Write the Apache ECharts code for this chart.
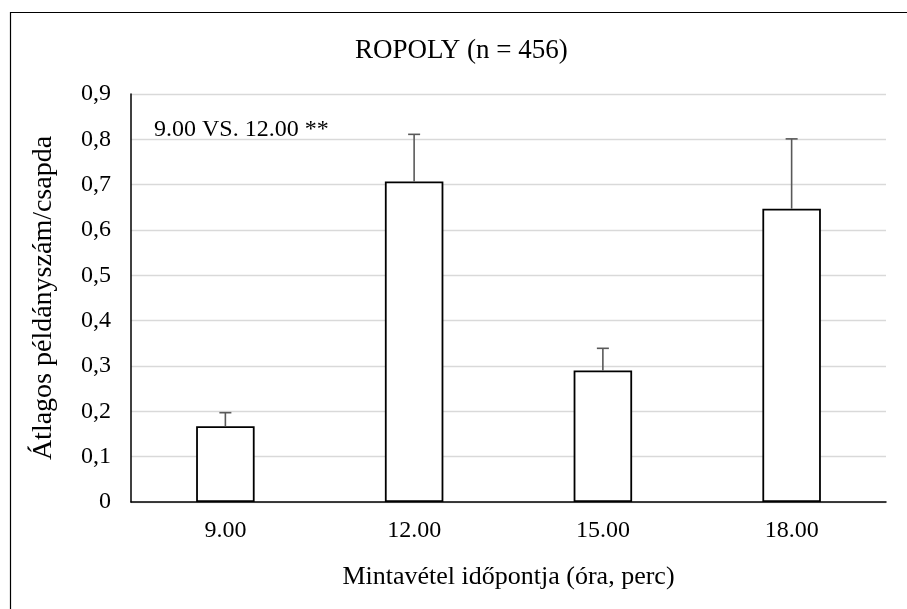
<!DOCTYPE html>
<html>
<head>
<meta charset="utf-8">
<script src="https://cdn.jsdelivr.net/npm/echarts@6/dist/echarts.min.js"></script>
<style>html,body{margin:0;padding:0;background:#fff}#c{width:907px;height:609px}</style>
</head>
<body>
<div id="c"></div>
<script>
var categories = ['9.00', '12.00', '15.00', '18.00'];
var means = [0.167, 0.707, 0.290, 0.647];
var errUpper = [0.197, 0.811, 0.339, 0.801];
var yTickLabels = ['0', '0,1', '0,2', '0,3', '0,4', '0,5', '0,6', '0,7', '0,8', '0,9'];

var chart = echarts.init(document.getElementById('c'));
var font = 'Liberation Serif, Times New Roman, serif';
chart.setOption({
  animation: false,
  backgroundColor: '#fff',
  graphic: [{
    type: 'rect', left: 8, top: 10,
    shape: { width: 1000, height: 1000 },
    style: { fill: 'none', stroke: '#000', lineWidth: 1.2 },
    silent: true
  }, {
    type: 'text', left: 154, top: 118,
    style: { text: '9.00 VS. 12.00 **', font: '24px ' + font, fill: '#000' }
  }],
  title: {
    text: 'ROPOLY (n = 456)', left: 350, top: 32,
    textStyle: { fontFamily: font, fontSize: 27, fontWeight: 'normal', color: '#000' }
  },
  grid: { left: 131, right: 21, top: 94, bottom: 107 },
  xAxis: {
    type: 'category', data: categories,
    axisLine: { lineStyle: { color: '#000', width: 1.5 } },
    axisTick: { show: false },
    axisLabel: { fontFamily: font, fontSize: 24, color: '#000', margin: 17 },
    name: 'Mintavétel időpontja (óra, perc)', nameLocation: 'middle', nameGap: 62,
    nameTextStyle: { fontFamily: font, fontSize: 26, color: '#000' }
  },
  yAxis: {
    type: 'value', min: 0, max: 0.9, interval: 0.1,
    axisLine: { show: true, lineStyle: { color: '#000', width: 1.5 } },
    axisTick: { show: false },
    splitLine: { lineStyle: { color: '#d9d9d9', width: 1.3 } },
    axisLabel: {
      fontFamily: font, fontSize: 24, color: '#000', margin: 20,
      formatter: function (v) { return yTickLabels[Math.round(v * 10)]; }
    },
    name: 'Átlagos példányszám/csapda', nameLocation: 'middle', nameGap: 73,
    nameTextStyle: { fontFamily: font, fontSize: 28, color: '#000' }
  },
  series: [{
    type: 'bar', data: means, barWidth: '31%',
    itemStyle: { color: '#fff', borderColor: '#000', borderWidth: 1.8 },
    z: 2
  }, {
    type: 'custom',
    data: categories.map(function (c, i) { return [i, means[i], errUpper[i]]; }),
    renderItem: function (params, api) {
      var lo = api.coord([api.value(0), api.value(1)]);
      var hi = api.coord([api.value(0), api.value(2)]);
      var hw = 6;
      return {
        type: 'group',
        children: [
          { type: 'line', shape: { x1: lo[0], y1: lo[1], x2: hi[0], y2: hi[1] }, style: { stroke: '#595959', lineWidth: 1.6 } },
          { type: 'line', shape: { x1: hi[0] - hw, y1: hi[1], x2: hi[0] + hw, y2: hi[1] }, style: { stroke: '#595959', lineWidth: 1.6 } }
        ]
      };
    },
    z: 3
  }]
});
</script>
</body>
</html>
